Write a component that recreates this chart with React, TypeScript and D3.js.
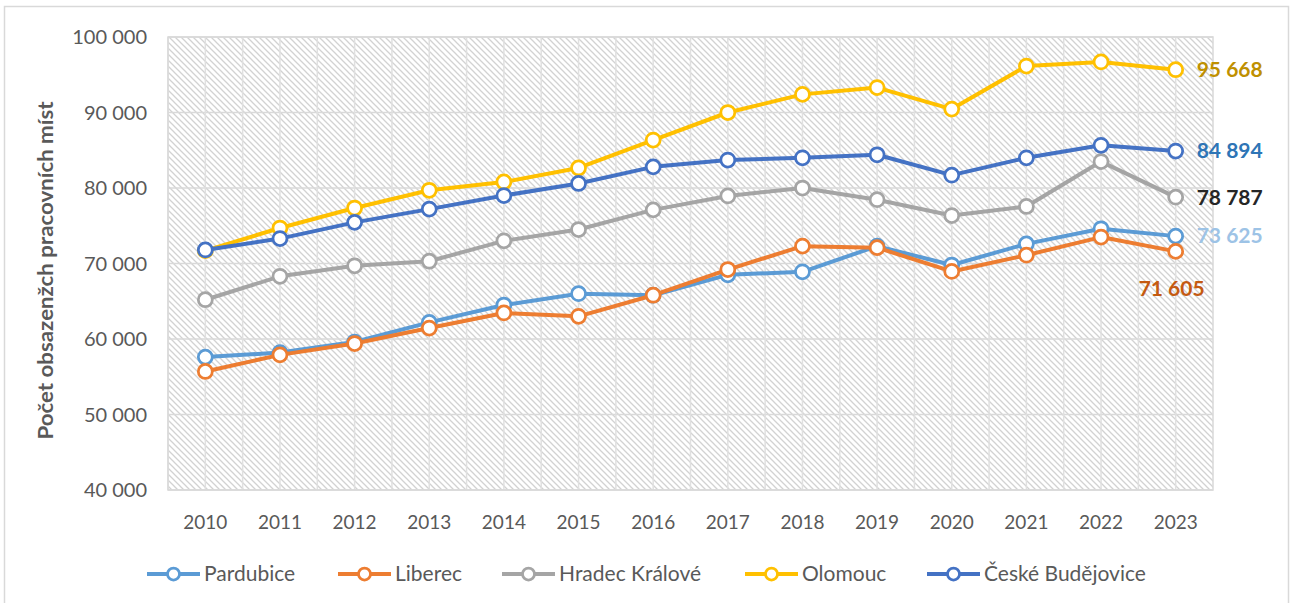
import React from "react";
import * as d3 from "d3";

const years = [2010, 2011, 2012, 2013, 2014, 2015, 2016, 2017, 2018, 2019, 2020, 2021, 2022, 2023];
const yTicks = [40000, 50000, 60000, 70000, 80000, 90000, 100000];

const pardubice = [57600, 58200, 59600, 62200, 64500, 66000, 65800, 68500, 68900, 72300, 69800, 72600, 74600, 73625];
const liberec = [55700, 57900, 59400, 61450, 63450, 63000, 65800, 69200, 72300, 72100, 68950, 71100, 73500, 71605];
const hradec = [65200, 68300, 69700, 70300, 73000, 74500, 77100, 78950, 80000, 78450, 76350, 77550, 83500, 78787];
const olomouc = [71700, 74700, 77350, 79700, 80800, 82650, 86350, 90000, 92400, 93300, 90450, 96150, 96700, 95668];
const budejovice = [71800, 73300, 75450, 77200, 79000, 80600, 82800, 83700, 84000, 84400, 81700, 84000, 85650, 84894];

const seriesNames = ["Pardubice", "Liberec", "Hradec Králové", "Olomouc", "České Budějovice"];
const seriesValues = [pardubice, liberec, hradec, olomouc, budejovice];
const seriesColors = ["#5B9BD5", "#ED7D31", "#A5A5A5", "#FFC000", "#4472C4"];
const labelColors = ["#9DC3E6", "#C55A11", "#262626", "#BF9000", "#2E75B6"];
const yTitle = "Počet obsazenžch pracovních míst";

const fmt = (v: number) => {
  const s = String(Math.round(v));
  return s.replace(/\B(?=(\d{3})+(?!\d))/g, " ");
};

export default function App() {
  const W = 1290, H = 603;
  const L = 168, R = 1213, T = 37, B = 490;
  const x = d3.scaleBand<number>().domain(years).range([L, R]);
  const cx = (yr: number) => (x(yr) as number) + x.bandwidth() / 2;
  const y = d3.scaleLinear().domain([40000, 100000]).range([B, T]);
  const line = d3.line<number>().x((_, i) => cx(years[i])).y((v) => y(v));
  const font = "Lato, 'Open Sans', sans-serif";

  const vGrid: number[] = [];
  years.forEach((yr) => {
    vGrid.push(x(yr) as number);
    vGrid.push(cx(yr));
  });

  const labelPos = [
    { dx: 21, dy: 0, anchor: "start" },
    { dx: 29, dy: 37, anchor: "end" },
    { dx: 21, dy: 0, anchor: "start" },
    { dx: 21, dy: 0, anchor: "start" },
    { dx: 21, dy: 0, anchor: "start" },
  ];

  const legendX = [147, 338, 502, 745, 927];

  return (
    <svg width={W} height={H} style={{ position: "absolute", left: 0, top: 0, background: "#fff" }}>
      <defs>
        <pattern id="hatch" patternUnits="userSpaceOnUse" width="6" height="6">
          <rect width="6" height="6" fill="#ffffff" />
          <path d="M-1,-1 L7,7 M-4,2 L4,10 M2,-4 L10,4" stroke="#d2d2d2" strokeWidth="1.3" />
        </pattern>
      </defs>
      <rect x={4.5} y={6.5} width={1284} height={610} fill="#fff" stroke="#d9d9d9" strokeWidth={1.5} />
      <rect x={L} y={T} width={R - L} height={B - T} fill="url(#hatch)" />
      {yTicks.map((t) => (
        <line key={"h" + t} x1={L} x2={R} y1={y(t)} y2={y(t)} stroke="#d9d9d9" strokeWidth={1.5} />
      ))}
      {vGrid.map((g, i) => (
        <line key={"v" + i} x1={g} x2={g} y1={T} y2={B} stroke="#e0e0e0" strokeWidth={1.5} />
      ))}
      <rect x={L} y={T} width={R - L} height={B - T} fill="none" stroke="#d9d9d9" strokeWidth={1.5} />

      {yTicks.map((t) => (
        <text key={"yt" + t} x={147} y={y(t)} dy="0.35em" textAnchor="end" fontFamily={font} fontSize={20} fill="#595959">
          {fmt(t)}
        </text>
      ))}
      {years.map((yr) => (
        <text key={"xt" + yr} x={cx(yr)} y={522} dy="0.35em" textAnchor="middle" fontFamily={font} fontSize={19} fill="#595959">
          {yr}
        </text>
      ))}
      <text
        transform={`translate(46,${(T + B) / 2 + 7}) rotate(-90)`}
        textAnchor="middle"
        dy="0.35em"
        fontFamily={font}
        fontWeight="bold"
        fontSize={20}
        textLength={338}
        lengthAdjust="spacingAndGlyphs"
        fill="#595959"
      >
        {yTitle}
      </text>

      {seriesValues.map((vals, si) => (
        <g key={"s" + si}>
          <path d={line(vals) || ""} fill="none" stroke={seriesColors[si]} strokeWidth={4} strokeLinejoin="round" strokeLinecap="round" />
          {vals.map((v, i) => (
            <circle key={i} cx={cx(years[i])} cy={y(v)} r={7} fill="#fff" stroke={seriesColors[si]} strokeWidth={2.75} />
          ))}
        </g>
      ))}

      {seriesValues.map((vals, si) => {
        const last = vals[vals.length - 1];
        const p = labelPos[si];
        return (
          <text
            key={"lab" + si}
            x={cx(years[years.length - 1]) + p.dx}
            y={y(last) + p.dy}
            dy="0.35em"
            textAnchor={p.anchor as any}
            fontFamily={font}
            fontWeight="bold"
            fontSize={21}
            fill={labelColors[si]}
          >
            {fmt(last)}
          </text>
        );
      })}

      {seriesNames.map((n, si) => (
        <g key={"lg" + si}>
          <line x1={legendX[si]} x2={legendX[si] + 53} y1={574} y2={574} stroke={seriesColors[si]} strokeWidth={4} />
          <circle cx={legendX[si] + 26.5} cy={574} r={6} fill="#fff" stroke={seriesColors[si]} strokeWidth={2.75} />
          <text x={legendX[si] + 57} y={574} dy="0.35em" fontFamily={font} fontSize={21} fill="#595959">
            {n}
          </text>
        </g>
      ))}
    </svg>
  );
}
